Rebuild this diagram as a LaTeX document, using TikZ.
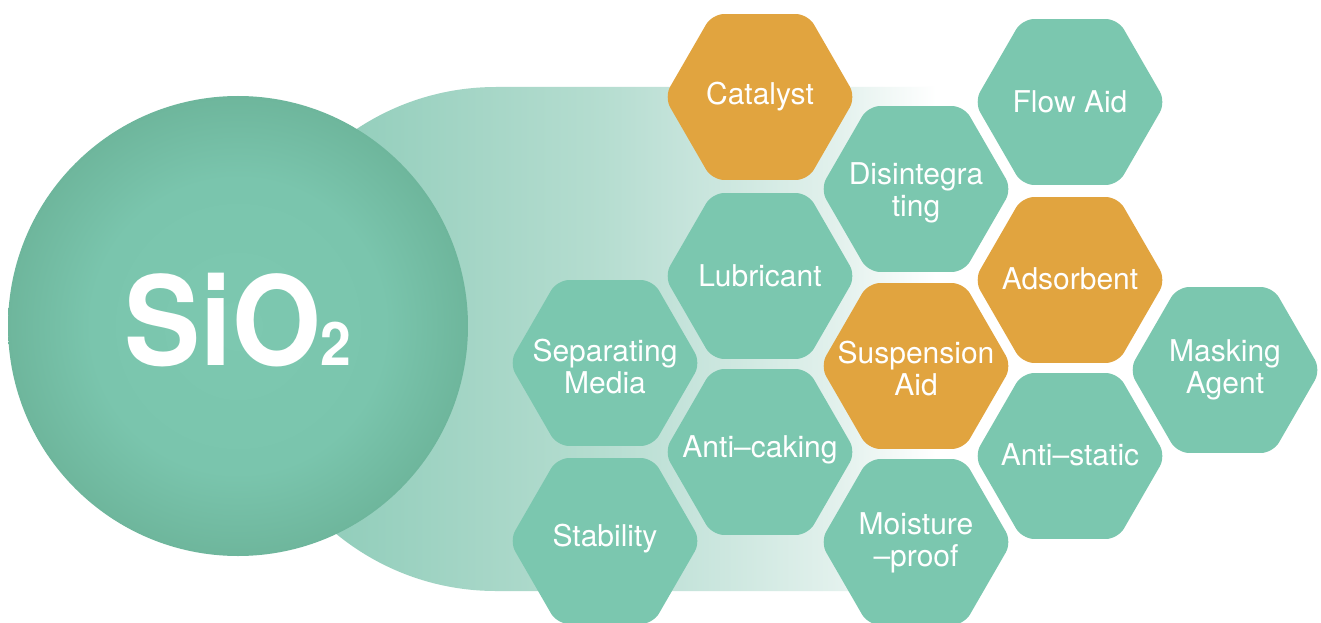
\documentclass[tikz,border=0pt]{standalone}
\usepackage{fontspec}
\setmainfont{TeX Gyre Heros}
\newfontfamily\sioface[FakeStretch=0.92]{TeX Gyre Heros}
\usetikzlibrary{shapes.geometric}
\definecolor{hexteal}{HTML}{7BC7AF}
\definecolor{hexorange}{HTML}{E1A43F}
\definecolor{bandA}{HTML}{8CCAB6}
\definecolor{bandB}{HTML}{95CFBD}
\definecolor{bandC}{HTML}{A8D7C8}
\definecolor{bandD}{HTML}{B5DDD0}
\definecolor{bandE}{HTML}{C4E3DA}
\definecolor{bandF}{HTML}{D3EAE3}
\definecolor{bandG}{HTML}{E3F1ED}
\definecolor{ballA}{HTML}{7DC8B0}
\definecolor{ballB}{HTML}{7AC5AD}
\definecolor{ballC}{HTML}{6EB69C}
\pgfdeclarehorizontalshading{bandshade}{100bp}{color(0bp)=(bandA); color(25bp)=(bandA); color(33bp)=(bandB); color(43bp)=(bandC); color(50bp)=(bandD); color(55.4bp)=(bandE); color(61bp)=(bandF); color(66.6bp)=(bandG); color(73.3bp)=(white); color(100bp)=(white)}
\pgfdeclareradialshading{ballshade}{\pgfpoint{0bp}{0bp}}{color(0bp)=(ballA); color(16bp)=(ballB); color(25bp)=(ballC); color(50bp)=(ballC)}
\tikzset{
  hexbox/.style={regular polygon, regular polygon sides=6, minimum size=191.6pt,
    inner sep=0pt, rounded corners=12pt, fill=hexteal},
  hexhot/.style={hexbox, fill=hexorange},
  hextext/.style={text=white, inner sep=0pt, font=\fontsize{30}{32}\selectfont, align=center}
}
\begin{document}
\begin{tikzpicture}[x=1pt,y=-1pt]
\clip (0,0) rectangle (1321,623);
\fill[white] (0,0) rectangle (1321,623);
% background band
\path[shading=bandshade] (960,87) -- (496,87) arc[start angle=270,end angle=90,radius=252] -- (960,591) -- cycle;
% big circle
\path[shading=ballshade] (238,326) circle[radius=230];
\node[anchor=base, text=white, inner sep=0pt] (sio) at (238,365)
  {\sioface\bfseries\fontsize{124}{124}\selectfont SiO\fontsize{60}{60}\selectfont 2};
% hexagons
\node[hexhot] (cat) at (760,97) {};
\node[hexbox] (flow) at (1070,102) {};
\node[hexbox] (dis) at (916,189) {};
\node[hexbox] (lub) at (760,276) {};
\node[hexhot] (ads) at (1070,280) {};
\node[hexbox] (sep) at (605,363) {};
\node[hexhot] (sus) at (916,366) {};
\node[hexbox] (mask) at (1225,370) {};
\node[hexbox] (anc) at (760,452) {};
\node[hexbox] (ast) at (1070,456) {};
\node[hexbox] (stab) at (605,541) {};
\node[hexbox] (moist) at (916,542) {};
% labels
\node[hextext] (catT) at (760,97) {Catalyst};
\node[hextext] (flowT) at (1070,102) {Flow Aid};
\node[hextext] (disT) at (916,193) {Disintegra\\ting};
\node[hextext] (lubT) at (760,276) {Lubricant};
\node[hextext] (adsT) at (1070,279) {Adsorbent};
\node[hextext] (sepT) at (605,367) {Separating\\Media};
\node[hextext] (susT) at (916,369) {Suspension\\Aid};
\node[hextext] (maskT) at (1225,370) {Masking\\Agent};
\node[hextext] (ancT) at (760,450) {Anti–caking};
\node[hextext] (astT) at (1070,455) {Anti–static};
\node[hextext] (stabT) at (605,539) {Stability};
\node[hextext] (moistT) at (916,543) {Moisture\\–proof};
\end{tikzpicture}
\end{document}
